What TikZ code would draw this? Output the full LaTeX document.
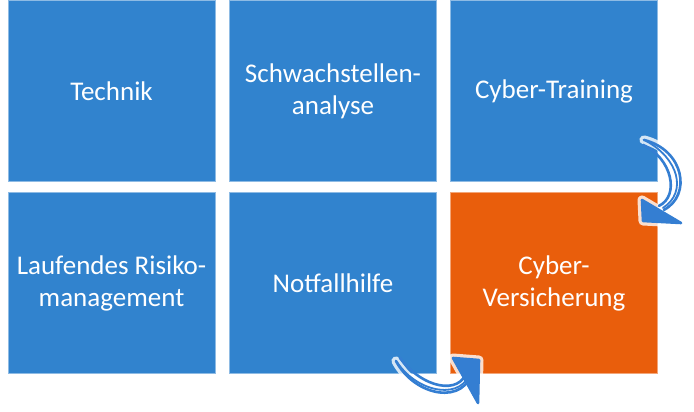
\documentclass[tikz,border=0pt]{standalone}
\usepackage{fontspec}
\setmainfont{Carlito}
\definecolor{kachelblau}{RGB}{49,131,206}
\definecolor{kacheloranje}{RGB}{233,94,12}
\definecolor{pfeilblau}{RGB}{52,126,210}
\tikzset{
  kachel/.style={rectangle, fill=kachelblau, draw=kachelblau!55!white, line width=0.8pt,
    minimum width=207pt, minimum height=181pt, inner sep=0pt, text=white, align=center,
    font=\fontsize{27}{32}\selectfont},
  pfeil/.style={draw=pfeilblau, line width=2.6pt, line cap=round, line join=round},
  spitze/.style={pfeil, fill=pfeilblau},
  schein/.style={draw=white, line width=9pt, line cap=round, line join=round, opacity=0.8}
}
\begin{document}
\begin{tikzpicture}[x=1pt,y=-1pt]
\useasboundingbox (0,0) rectangle (694,412);

\node[kachel] (technik) at (111.5,91)
	{Technik};
\node[kachel] (schwachstellen) at (333,91)
	{Schwachstellen-\\analyse};
\node[kachel] (training) at (554,91)
	{Cyber-Training};
\node[kachel] (risiko) at (111.5,283)
	{Laufendes Risiko-\\management};
\node[kachel] (notfall) at (333,283)
	{Notfallhilfe};
\node[kachel, fill=kacheloranje, draw=kacheloranje!55!white] (versicherung) at (554,283)
	{Cyber-\\Versicherung};

% Pfeil: Cyber-Training -> Cyber-Versicherung (handgezeichnet)
\coordinate (p1a) at ([shift={(-14,-42)}]training.south east);
\coordinate (p1b) at ([shift={(6,28)}]training.south east);
\path[schein] (p1a) .. controls (684,150) and (692,195) .. (p1b)
	(642,200) -- (643,221) -- (681,223) -- cycle;
\path[pfeil] (p1a) .. controls (684,150) and (692,195) .. (p1b);
\path[pfeil] ([shift={(-1,5)}]p1a) .. controls (672,158) and (680,196) .. ([shift={(-5,-4)}]p1b);
\path[pfeil, line width=1.8pt] ([shift={(2,1)}]p1a) .. controls (678,158) and (688,192) .. ([shift={(-1,-2)}]p1b);
\path[spitze] (642,200) -- (643,221) -- (681,223) -- cycle;

% Pfeil: Notfallhilfe -> Cyber-Versicherung (handgezeichnet)
\coordinate (p2a) at ([shift={(-41,-13)}]notfall.south east);
\coordinate (p2b) at ([shift={(36,-5)}]notfall.south east);
\path[schein] (p2a) .. controls (415,397) and (466,406) .. (p2b)
	(453,358) -- (479,360) -- (478,403) -- cycle;
\path[pfeil] (p2a) .. controls (415,397) and (466,406) .. (p2b);
\path[pfeil] ([shift={(4,-3)}]p2a) .. controls (422,388) and (460,396) .. ([shift={(-6,2)}]p2b);
\path[pfeil, line width=1.8pt] ([shift={(1,1)}]p2a) .. controls (418,394) and (464,401) .. ([shift={(-2,1)}]p2b);
\path[spitze] (453,358) -- (479,360) -- (478,403) -- cycle;
\end{tikzpicture}
\end{document}
